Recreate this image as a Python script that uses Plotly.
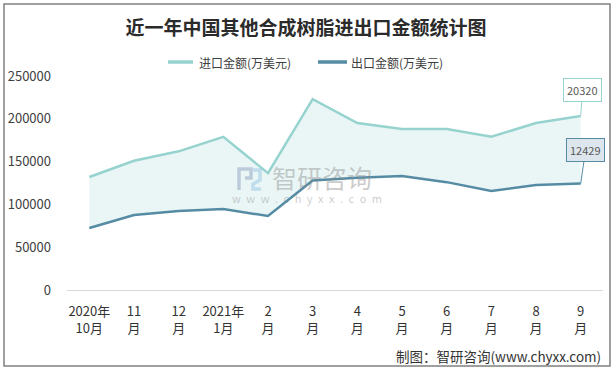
import plotly.graph_objects as go

categories = ["2020年<br>10月", "11<br>月", "12<br>月", "2021年<br>1月", "2<br>月", "3<br>月",
              "4<br>月", "5<br>月", "6<br>月", "7<br>月", "8<br>月", "9<br>月"]
import_vals = [132000, 151000, 162000, 179000, 136500, 223000, 195000, 188000, 188000, 179000, 195000, 203200]
export_vals = [72400, 87600, 92300, 94600, 86400, 128000, 131000, 133200, 126000, 115700, 122700, 124290]
import_name = "进口金额(万美元)"
export_name = "出口金额(万美元)"
import_label = "20320"
export_label = "12429"
ytick_vals = [0, 50000, 100000, 150000, 200000, 250000]

C_IMP = "#96D3CF"
C_EXP = "#558CA4"
FONT = "Noto Sans CJK SC"

W, H = 615, 370
ml, mr, mt, mb = 67, 12, 76, 80
pw, ph = W - ml - mr, H - mt - mb


def px(x):
    return (x - ml) / pw


def py(y):
    return (H - mb - y) / ph


fig = go.Figure()
# fill band between the two series
fig.add_trace(go.Scatter(x=categories, y=export_vals, mode="lines", line=dict(width=0),
                         showlegend=False, hoverinfo="skip"))
fig.add_trace(go.Scatter(x=categories, y=import_vals, mode="lines", line=dict(width=0),
                         fill="tonexty", fillcolor="#EAF6F6", showlegend=False, hoverinfo="skip"))
fig.add_trace(go.Scatter(x=categories, y=import_vals, mode="lines", name=import_name,
                         line=dict(color=C_IMP, width=2.5), showlegend=False))
fig.add_trace(go.Scatter(x=categories, y=export_vals, mode="lines", name=export_name,
                         line=dict(color=C_EXP, width=2.5), showlegend=False))

fig.update_layout(
    width=W, height=H,
    margin=dict(l=ml, r=mr, t=mt, b=mb, autoexpand=False),
    paper_bgcolor="white", plot_bgcolor="white",
    font=dict(family=FONT, color="#404040", size=12),
    title=dict(text="<b>近一年中国其他合成树脂进出口金额统计图</b>", x=306 / W, xanchor="center",
               y=1 - 28 / H, yanchor="middle", font=dict(size=19, color="#2b2b2b", family=FONT)),
    showlegend=False,
)
fig.update_xaxes(type="category", range=[-0.5, 11.5], showgrid=False, showline=True,
                 linecolor="#D9D9D9", linewidth=1, ticks="", tickfont=dict(size=13, color="#333333"),
                 ticklabelstandoff=9, fixedrange=True)
fig.update_yaxes(range=[0, 250000], tickvals=ytick_vals, ticktext=[str(v) for v in ytick_vals],
                 showgrid=False, zeroline=False, showline=False, ticks="",
                 tickfont=dict(size=13, color="#404040"), ticklabelstandoff=15, fixedrange=True)

# manual legend
for x0, x1, tx, col, name in [(168, 193, 197, C_IMP, import_name), (318, 347, 349, C_EXP, export_name)]:
    fig.add_shape(type="line", xref="paper", yref="paper", x0=px(x0), x1=px(x1), y0=py(62), y1=py(62),
                  line=dict(color=col, width=3.5))
    fig.add_annotation(xref="paper", yref="paper", x=px(tx), y=py(62), xanchor="left", yanchor="middle",
                       text=name, showarrow=False, font=dict(size=12, color="#404040"))

# callouts
fig.add_annotation(x=11, y=import_vals[-1], text=import_label, showarrow=True, arrowhead=0,
                   arrowwidth=1, arrowcolor=C_IMP, ax=2, ay=-26, bgcolor="#FFFFFF",
                   bordercolor=C_IMP, borderwidth=1, borderpad=3,
                   font=dict(size=11, color="#595959"))
fig.add_annotation(x=11, y=export_vals[-1], text=export_label, showarrow=True, arrowhead=0,
                   arrowwidth=1, arrowcolor=C_EXP, ax=5, ay=-34, bgcolor="#DCE6EC",
                   bordercolor=C_EXP, borderwidth=1, borderpad=3,
                   font=dict(size=11, color="#595959"))

# watermark
fig.add_annotation(xref="paper", yref="paper", x=px(322), y=py(177),
                   text="智研咨询", showarrow=False, font=dict(size=25, color="rgba(140,140,140,0.45)"))
fig.add_annotation(xref="paper", yref="paper", x=px(307), y=py(198),
                   text="\u2002".join("www.chyxx.com"), showarrow=False,
                   font=dict(size=11, color="rgba(140,140,140,0.45)"))
fig.add_shape(type="path", xref="paper", yref="paper",
              path=f"M {px(239)} {py(190)} L {px(239)} {py(169)} L {px(251)} {py(169)} L {px(251)} {py(178)} L {px(245)} {py(178)}",
              line=dict(color="rgba(130,150,185,0.45)", width=3.5))
fig.add_shape(type="path", xref="paper", yref="paper",
              path=f"M {px(253)} {py(170)} L {px(260)} {py(170)} L {px(260)} {py(180)} L {px(253)} {py(184)} L {px(253)} {py(189)} L {px(261)} {py(189)}",
              line=dict(color="rgba(150,195,225,0.5)", width=3.5))

# source
fig.add_annotation(xref="paper", yref="paper", x=px(603), xanchor="right",
                   y=py(356), yanchor="middle",
                   text="制图：智研咨询(www.chyxx.com)", showarrow=False,
                   font=dict(size=13.5, color="#333333"))

# outer frame
fig.add_shape(type="rect", xref="paper", yref="paper",
              x0=px(4), x1=px(610), y0=py(366), y1=py(4),
              line=dict(color="#808080", width=1.5), fillcolor="rgba(0,0,0,0)", layer="above")

fig.write_html("out.html", config={"displayModeBar": False},
               post_script="document.body.style.margin='0';document.body.style.overflow='hidden';")
